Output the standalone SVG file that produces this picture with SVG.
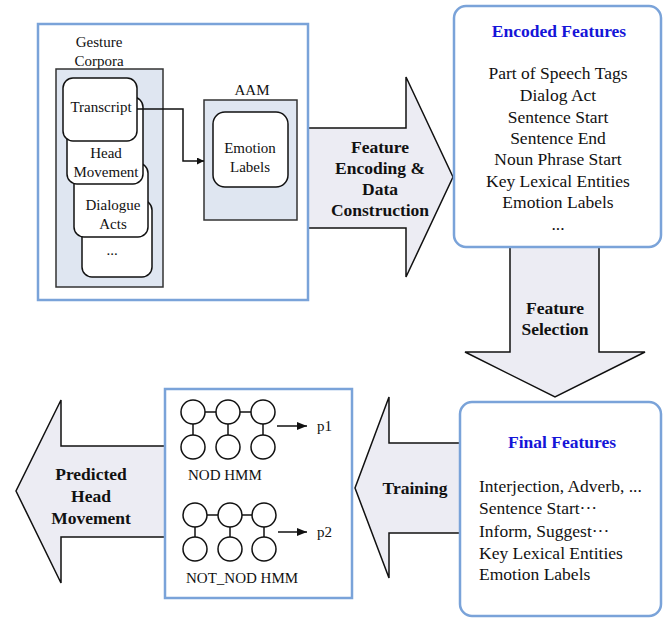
<svg xmlns="http://www.w3.org/2000/svg" width="663" height="618" viewBox="0 0 663 618">
<defs>
<style>
.t{font-family:"Liberation Serif","Times New Roman",serif;font-size:15px;fill:#111;text-anchor:middle}
.tl{font-family:"Liberation Serif","Times New Roman",serif;font-size:17.5px;fill:#111}
.tc{font-family:"Liberation Serif","Times New Roman",serif;font-size:17.5px;fill:#111;text-anchor:middle}
.b{font-family:"Liberation Serif","Times New Roman",serif;font-size:17.5px;font-weight:bold;fill:#111;text-anchor:middle}
.bb{font-family:"Liberation Serif","Times New Roman",serif;font-size:17.5px;font-weight:bold;fill:#1515d8;text-anchor:middle}
.blue{fill:#fff;stroke:#7aa3d9;stroke-width:2.5}
.gray{fill:#dfe6f1;stroke:#333;stroke-width:1.5}
.rb{fill:#fff;stroke:#111;stroke-width:1.5}
.arr{fill:#ececf3;stroke:#111;stroke-width:1.5;stroke-linejoin:miter}
.c{fill:#fff;stroke:#111;stroke-width:1.5}
.ln{stroke:#111;stroke-width:1.5;fill:none}
</style>
<marker id="ah" viewBox="0 0 10 10" refX="10" refY="5" markerWidth="7" markerHeight="7" markerUnits="userSpaceOnUse" orient="auto"><path d="M0,0 L10,5 L0,10 z" fill="#111"/></marker>
<marker id="ah2" viewBox="0 0 10 10" refX="10" refY="5" markerWidth="10" markerHeight="8" markerUnits="userSpaceOnUse" orient="auto" preserveAspectRatio="none"><path d="M0,0 L10,5 L0,10 z" fill="#111"/></marker>
</defs>

<g id="arrow-encoding">
<polygon class="arr" points="308,128 406,128 406,77 453,177 406,277 406,228 308,228"/>
<text class="b" x="380" y="153">Feature</text>
<text class="b" x="380" y="174">Encoding &amp;</text>
<text class="b" x="380" y="195">Data</text>
<text class="b" x="380" y="216">Construction</text>
</g>

<g id="arrow-selection">
<polygon class="arr" points="510,247 599,247 599,352 645,352 555,397 465,352 510,352"/>
<text class="b" x="555" y="314">Feature</text>
<text class="b" x="555" y="335">Selection</text>
</g>

<g id="arrow-training">
<polygon class="arr" points="460,443 389,443 389,397 355,488 389,578 389,533 460,533"/>
<text class="b" x="415" y="494">Training</text>
</g>

<g id="arrow-predicted">
<polygon class="arr" points="165,446 61,446 61,400 16,491 61,583 61,537 165,537"/>
<text class="b" x="91" y="480">Predicted</text>
<text class="b" x="91" y="502">Head</text>
<text class="b" x="91" y="524">Movement</text>
</g>

<g id="input-sources">
<rect class="blue" x="38" y="24" width="270" height="276"/>
</g>

<g id="gesture-corpora">
<text class="t" x="99" y="47">Gesture</text>
<text class="t" x="99" y="66">Corpora</text>
<rect class="gray" x="56" y="69" width="107" height="218"/>
<rect class="rb" x="82" y="200" width="70" height="77" rx="10"/>
<text class="t" x="112" y="255">...</text>
<rect class="rb" x="74" y="163" width="74" height="74" rx="10"/>
<text class="t" x="113" y="210">Dialogue</text>
<text class="t" x="113" y="229">Acts</text>
<rect class="rb" x="67" y="97" width="76" height="87" rx="10"/>
<text class="t" x="106" y="158">Head</text>
<text class="t" x="106" y="177">Movement</text>
<g id="transcript">
<rect class="rb" x="63" y="78" width="74" height="63" rx="10"/>
<text class="t" x="101" y="112">Transcript</text>
</g>
</g>

<g id="aam">
<text class="t" x="252" y="95">AAM</text>
<rect class="gray" x="204" y="100" width="93" height="120"/>
<g id="emotion-labels">
<rect class="rb" x="213" y="112" width="75" height="75" rx="12"/>
<text class="t" x="250" y="153">Emotion</text>
<text class="t" x="250" y="172">Labels</text>
</g>
</g>

<g id="connectors">
<polyline class="ln" points="137,109 183,109 183,161 204,161" marker-end="url(#ah)"/>
</g>

<g id="encoded-features">
<rect class="blue" x="454" y="6" width="207" height="241" rx="12"/>
<text class="bb" x="559" y="37">Encoded Features</text>
<text class="tc" x="558" y="79">Part of Speech Tags</text>
<text class="tc" x="558" y="101">Dialog Act</text>
<text class="tc" x="558" y="123">Sentence Start</text>
<text class="tc" x="558" y="144">Sentence End</text>
<text class="tc" x="558" y="165">Noun Phrase Start</text>
<text class="tc" x="558" y="187">Key Lexical Entities</text>
<text class="tc" x="558" y="208">Emotion Labels</text>
<text class="tc" x="558" y="230">...</text>
</g>

<g id="final-features">
<rect class="blue" x="460" y="402" width="201" height="214" rx="12"/>
<text class="bb" x="562" y="448">Final Features</text>
<text class="tl" x="479" y="492">Interjection, Adverb, ...</text>
<text class="tl" x="479" y="514">Sentence Start···</text>
<text class="tl" x="479" y="537">Inform, Suggest···</text>
<text class="tl" x="479" y="559">Key Lexical Entities</text>
<text class="tl" x="479" y="580">Emotion Labels</text>
</g>

<g id="hmm-models">
<rect class="blue" x="165" y="389" width="187" height="209"/>
<g id="nod-hmm">
<line class="ln" x1="193" y1="412" x2="263" y2="412"/>
<line class="ln" x1="193" y1="412" x2="193" y2="447"/>
<line class="ln" x1="228" y1="412" x2="228" y2="447"/>
<line class="ln" x1="263" y1="412" x2="263" y2="447"/>
<circle class="c" cx="193" cy="412" r="12"/>
<circle class="c" cx="228" cy="412" r="12"/>
<circle class="c" cx="263" cy="412" r="12"/>
<circle class="c" cx="193" cy="447" r="12"/>
<circle class="c" cx="228" cy="447" r="12"/>
<circle class="c" cx="263" cy="447" r="12"/>
<line class="ln" x1="277" y1="426" x2="307" y2="426" marker-end="url(#ah2)"/>
<text class="tl" x="317" y="431" style="font-size:15px">p1</text>
<text class="tl" x="188" y="480" style="font-size:15px">NOD HMM</text>
</g>
<g id="not-nod-hmm">
<line class="ln" x1="195" y1="515" x2="264" y2="515"/>
<line class="ln" x1="195" y1="515" x2="195" y2="549"/>
<line class="ln" x1="230" y1="515" x2="230" y2="549"/>
<line class="ln" x1="264" y1="515" x2="264" y2="549"/>
<circle class="c" cx="195" cy="515" r="12"/>
<circle class="c" cx="230" cy="515" r="12"/>
<circle class="c" cx="264" cy="515" r="12"/>
<circle class="c" cx="195" cy="549" r="12"/>
<circle class="c" cx="230" cy="549" r="12"/>
<circle class="c" cx="264" cy="549" r="12"/>
<line class="ln" x1="278" y1="532" x2="307" y2="532" marker-end="url(#ah2)"/>
<text class="tl" x="317" y="537" style="font-size:15px">p2</text>
<text class="tl" x="186" y="583" style="font-size:15px">NOT_NOD HMM</text>
</g>
</g>
</svg>
